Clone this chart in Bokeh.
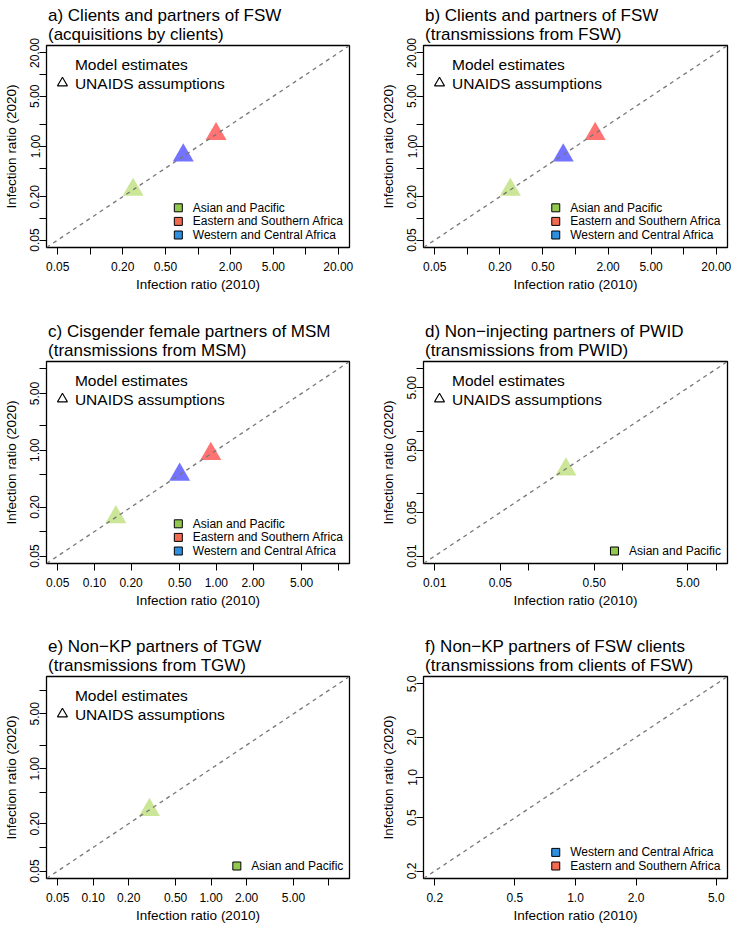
import math
from bokeh.plotting import figure
from bokeh.models import Range1d, FixedTicker, Slope, Title, LinearScale
from bokeh.layouts import column, row
from bokeh.embed import file_html
from bokeh.resources import INLINE
from bokeh.core.properties import value

AP = "Asian and Pacific"
ESA = "Eastern and Southern Africa"
WCA = "Western and Central Africa"

# ---------------- data ----------------
a_title = ["a) Clients and partners of FSW", "(acquisitions by clients)"]
a_limits = [0.05, 20]
a_xticks = [0.05, 0.1, 0.2, 0.5, 1, 2, 5, 10, 20]
a_xlabels = ["0.05", "", "0.20", "0.50", "", "2.00", "5.00", "", "20.00"]
a_yticks = [0.05, 0.1, 0.2, 0.5, 1, 2, 5, 10, 20]
a_ylabels = ["0.05", "", "0.20", "", "1.00", "", "5.00", "", "20.00"]
a_regions = [AP, ESA, WCA]
a_ratio2010 = [0.25, 1.47, 0.73]
a_ratio2020 = [0.25, 1.49, 0.75]
a_legend = [AP, ESA, WCA]

b_title = ["b) Clients and partners of FSW", "(transmissions from FSW)"]
b_limits = [0.05, 20]
b_xticks = [0.05, 0.1, 0.2, 0.5, 1, 2, 5, 10, 20]
b_xlabels = ["0.05", "", "0.20", "0.50", "", "2.00", "5.00", "", "20.00"]
b_yticks = [0.05, 0.1, 0.2, 0.5, 1, 2, 5, 10, 20]
b_ylabels = ["0.05", "", "0.20", "", "1.00", "", "5.00", "", "20.00"]
b_regions = [AP, ESA, WCA]
b_ratio2010 = [0.25, 1.52, 0.77]
b_ratio2020 = [0.25, 1.50, 0.75]
b_legend = [AP, ESA, WCA]

c_title = ["c) Cisgender female partners of MSM", "(transmissions from MSM)"]
c_limits = [0.05, 10]
c_xticks = [0.05, 0.1, 0.2, 0.5, 1, 2, 5, 10]
c_xlabels = ["0.05", "0.10", "0.20", "0.50", "1.00", "2.00", "5.00", ""]
c_yticks = [0.05, 0.1, 0.2, 0.5, 1, 2, 5, 10]
c_ylabels = ["0.05", "", "0.20", "", "1.00", "", "5.00", ""]
c_regions = [AP, ESA, WCA]
c_ratio2010 = [0.15, 0.90, 0.50]
c_ratio2020 = [0.15, 0.90, 0.50]
c_legend = [AP, ESA, WCA]

d_title = ["d) Non\u2212injecting partners of PWID", "(transmissions from PWID)"]
d_limits = [0.01, 10]
d_xticks = [0.01, 0.05, 0.1, 0.5, 1, 5, 10]
d_xlabels = ["0.01", "0.05", "", "0.50", "", "5.00", ""]
d_yticks = [0.01, 0.05, 0.1, 0.5, 1, 5, 10]
d_ylabels = ["0.01", "0.05", "", "0.50", "", "5.00", ""]
d_regions = [AP]
d_ratio2010 = [0.25]
d_ratio2020 = [0.245]
d_legend = [AP]

e_title = ["e) Non\u2212KP partners of TGW", "(transmissions from TGW)"]
e_limits = [0.05, 12]
e_xticks = [0.05, 0.1, 0.2, 0.5, 1, 2, 5, 10]
e_xlabels = ["0.05", "0.10", "0.20", "0.50", "1.00", "2.00", "5.00", ""]
e_yticks = [0.05, 0.1, 0.2, 0.5, 1, 2, 5, 10]
e_ylabels = ["0.05", "", "0.20", "", "1.00", "", "5.00", ""]
e_regions = [AP]
e_ratio2010 = [0.30]
e_ratio2020 = [0.30]
e_legend = [AP]

f_title = ["f) Non\u2212KP partners of FSW clients", "(transmissions from clients of FSW)"]
f_limits = [0.2, 5]
f_xticks = [0.2, 0.5, 1, 2, 5]
f_xlabels = ["0.2", "0.5", "1.0", "2.0", "5.0"]
f_yticks = [0.2, 0.5, 1, 2, 5]
f_ylabels = ["0.2", "0.5", "1.0", "2.0", "5.0"]
f_regions = []
f_ratio2010 = []
f_ratio2020 = []
f_legend = [WCA, ESA]

# ---------------- styles ----------------
FONT = "Liberation Sans"
TRI_COLOR = {AP: "#9ACD32", ESA: "#FF0000", WCA: "#0000FF"}
TRI_ALPHA = {AP: 0.5, ESA: 0.55, WCA: 0.55}
KEY_COLOR = {AP: "#92C84E", ESA: "#F26A4F", WCA: "#2E8FE0"}

FW, FH = 304, 202  # frame size in px

# Arial advance widths (per 1000 em) for legend layout
ARIAL_W = {" ": 278, "A": 667, "s": 500, "i": 222, "a": 556, "n": 556, "d": 556,
           "P": 667, "c": 500, "f": 278, "E": 667, "t": 278, "e": 556, "r": 333,
           "S": 667, "o": 556, "u": 556, "h": 556, "W": 944, "C": 722, "l": 222}


def text_w(s, size):
    return sum(ARIAL_W.get(ch, 556) for ch in s) / 1000.0 * size


def make_panel(title, limits, xt, xl, yt, yl, regs, x10, y20, legend, left, height, btop, bbot,
               top_legend=True):
    lo, hi = limits
    span = math.log10(hi) - math.log10(lo)
    r0 = 10 ** (math.log10(lo) - 0.04 * span)
    r1 = 10 ** (math.log10(hi) + 0.04 * span)
    if left:
        w, bl, br = 366, 45, 17
    else:
        w, bl, br = 366, 57, 5
    p = figure(width=w, height=height, x_axis_type="log", y_axis_type="log",
               x_range=Range1d(r0, r1), y_range=Range1d(r0, r1),
               output_backend="svg", toolbar_location=None, title=None,
               min_border_left=bl, min_border_right=br,
               min_border_top=btop, min_border_bottom=bbot)
    p.extra_x_ranges = {"px": Range1d(0, FW)}
    p.extra_y_ranges = {"px": Range1d(0, FH)}
    p.extra_x_scales = {"px": LinearScale()}
    p.extra_y_scales = {"px": LinearScale()}

    p.add_layout(Title(text=title[0] + "\n" + title[1], align="left", text_font=FONT,
                       text_font_size="17px", text_line_height=1.0,
                       text_font_style="normal", text_color="black", standoff=4, offset=1.5),
                 "above")

    p.xgrid.visible = False
    p.ygrid.visible = False
    p.outline_line_color = "black"
    p.outline_line_width = 1.3
    p.background_fill_color = "white"
    p.border_fill_color = "white"

    for ax, ticks, labels in ((p.xaxis[0], xt, xl), (p.yaxis[0], yt, yl)):
        ax.ticker = FixedTicker(ticks=ticks, minor_ticks=[])
        ax.major_label_overrides = {t: lab for t, lab in zip(ticks, labels)}
        ax.axis_line_color = None
        ax.major_tick_out = 7
        ax.major_tick_in = 0
        ax.minor_tick_out = 0
        ax.minor_tick_in = 0
        ax.major_tick_line_color = "black"
        ax.major_tick_line_width = 1
        ax.major_label_text_font = FONT
        ax.major_label_text_font_size = "12px"
        ax.major_label_text_color = "black"
        ax.axis_label_text_font = FONT
        ax.axis_label_text_font_size = "13.5px"
        ax.axis_label_text_font_style = "normal"
        ax.axis_label_text_color = "black"
    p.xaxis.axis_label = "Infection ratio (2010)"
    p.yaxis.axis_label = "Infection ratio (2020)"
    p.xaxis.major_label_standoff = 7
    p.xaxis.axis_label_standoff = 3
    p.yaxis.major_label_orientation = "vertical"
    p.yaxis.major_label_standoff = 0
    p.yaxis.axis_label_standoff = 9

    # identity line
    p.add_layout(Slope(gradient=1, y_intercept=0, line_color="#777777",
                       line_width=1.3, line_dash="4 4"))

    # UNAIDS assumption triangles
    for r, xv, yv in zip(regs, x10, y20):
        p.scatter(x=[xv], y=[yv], marker="triangle", size=21, fill_color=TRI_COLOR[r],
                  fill_alpha=TRI_ALPHA[r], line_color=None)

    # top-left key
    if top_legend:
        p.text(x=[28.5, 28.5], y=[FH - 19, FH - 37.5],
               text=["Model estimates", "UNAIDS assumptions"],
               x_range_name="px", y_range_name="px",
               text_font=value(FONT), text_font_size="15.5px", text_color="black",
               text_baseline="middle", text_align="left")
        p.scatter(x=[16], y=[FH - 37.5], marker="triangle", size=10, fill_color=None,
                  line_color="black", line_width=1.1, x_range_name="px", y_range_name="px")

    # region key, bottom right
    n = len(legend)
    maxw = max(text_w(s, 12) for s in legend)
    tx = FW - 6.5 - maxw
    for i, r in enumerate(legend):
        yy = 12.5 + (n - 1 - i) * 13.6
        p.scatter(x=[tx - 14.5], y=[yy], marker="square", size=8, fill_color=KEY_COLOR[r],
                  line_color="black", line_width=1, x_range_name="px", y_range_name="px")
        p.text(x=[tx], y=[yy], text=[r], x_range_name="px", y_range_name="px",
               text_font=value(FONT), text_font_size="12px", text_color="black",
               text_baseline="middle", text_align="left")
    return p


# rows: heights = top border + frame (202) + bottom border
pa = make_panel(a_title, a_limits, a_xticks, a_xlabels, a_yticks, a_ylabels,
                a_regions, a_ratio2010, a_ratio2020, a_legend, True, 300, 45, 53)
pb = make_panel(b_title, b_limits, b_xticks, b_xlabels, b_yticks, b_ylabels,
                b_regions, b_ratio2010, b_ratio2020, b_legend, False, 300, 45, 53)
pc = make_panel(c_title, c_limits, c_xticks, c_xlabels, c_yticks, c_ylabels,
                c_regions, c_ratio2010, c_ratio2020, c_legend, True, 315, 61, 52)
pd = make_panel(d_title, d_limits, d_xticks, d_xlabels, d_yticks, d_ylabels,
                d_regions, d_ratio2010, d_ratio2020, d_legend, False, 315, 61, 52)
pe = make_panel(e_title, e_limits, e_xticks, e_xlabels, e_yticks, e_ylabels,
                e_regions, e_ratio2010, e_ratio2020, e_legend, True, 310, 61, 47)
pf = make_panel(f_title, f_limits, f_xticks, f_xlabels, f_yticks, f_ylabels,
                f_regions, f_ratio2010, f_ratio2020, f_legend, False, 310, 61, 47,
                top_legend=False)

layout = column(row(pa, pb, spacing=0), row(pc, pd, spacing=0), row(pe, pf, spacing=0), spacing=0)

open("out.html", "w").write(file_html(layout, INLINE))
